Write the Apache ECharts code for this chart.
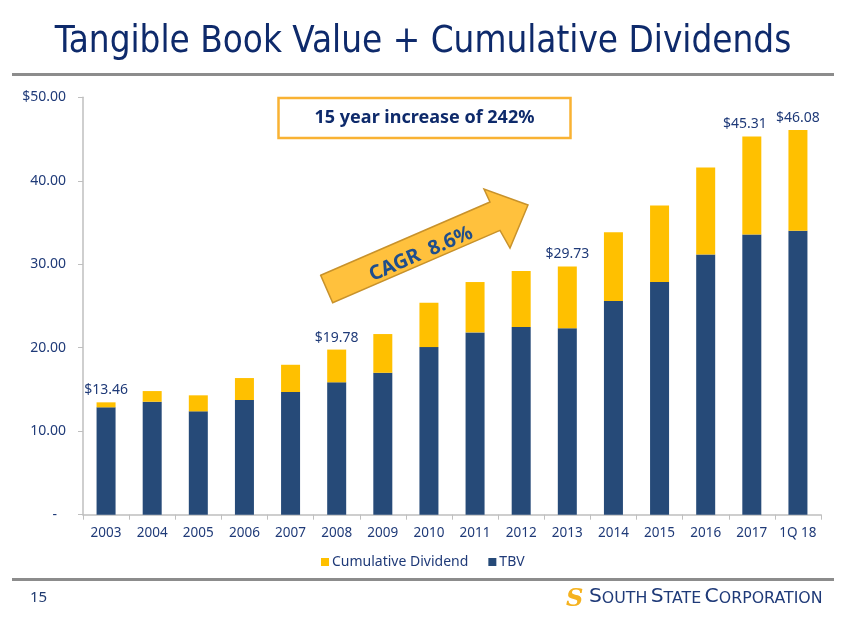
<!DOCTYPE html>
<html>
<head>
<meta charset="utf-8">
<script src="https://cdn.jsdelivr.net/npm/echarts@6/dist/echarts.min.js"></script>
<style>
html,body{margin:0;padding:0;background:#fff;}
#chart{width:846px;height:635px;}
</style>
</head>
<body>
<div id="chart"></div>
<script>
const categories = ['2003','2004','2005','2006','2007','2008','2009','2010','2011','2012','2013','2014','2015','2016','2017','1Q 18'];
const tbv = [12.86,13.53,12.38,13.74,14.70,15.86,17.00,20.08,21.84,22.48,22.32,25.59,27.87,31.18,33.57,34.00];
const cumulativeDividend = [0.60,1.28,1.92,2.63,3.26,3.92,4.64,5.31,6.03,6.71,7.41,8.23,9.18,10.42,11.74,12.08];
const totalLabels = {0:'$13.46', 5:'$19.78', 10:'$29.73', 14:'$45.31', 15:'$46.08'};

const NAVY = '#264A78';
const GOLD = '#FFC000';
const TEXT = '#1F3A78';
const FONT = 'Noto Sans';

const chart = echarts.init(document.getElementById('chart'));

const divData = cumulativeDividend.map((v, i) => {
  if (totalLabels[i] === undefined) return v;
  return {
    value: v,
    label: {
      show: true, position: 'top', distance: 5,
      formatter: totalLabels[i], color: TEXT, fontSize: 14, fontFamily: FONT,
      offset: i === 14 ? [-7, 0] : [0, 0]
    }
  };
});

const option = {
  animation: false,
  textStyle: { fontFamily: FONT },
  grid: { left: 83, right: 25, top: 97.3, bottom: 120.3 },
  legend: {
    data: ['Cumulative Dividend', 'TBV'],
    top: 550, left: 316,
    itemWidth: 8, itemHeight: 8, itemGap: 20,
    icon: 'rect',
    textStyle: { color: TEXT, fontSize: 14, fontFamily: FONT, padding: [0,0,0,-2] }
  },
  xAxis: {
    type: 'category',
    data: categories,
    axisLine: { lineStyle: { color: '#BFBFBF', width: 1.5 } },
    axisTick: { show: true, length: 5, lineStyle: { color: '#BFBFBF' } },
    axisLabel: { interval: 0, color: TEXT, fontSize: 13.5, margin: 11, fontFamily: FONT }
  },
  yAxis: {
    type: 'value', min: 0, max: 50, interval: 10,
    splitLine: { show: false },
    axisLine: { show: true, lineStyle: { color: '#BFBFBF', width: 1.5 } },
    axisTick: { show: true, length: 5, lineStyle: { color: '#BFBFBF' } },
    axisLabel: {
      color: TEXT, fontSize: 14, margin: 17, fontFamily: FONT,
      formatter: v => v === 0 ? '{d|-}' : (v === 50 ? '$' + v.toFixed(2) : v.toFixed(2)),
      rich: { d: { color: TEXT, fontSize: 14, padding: [0, 9, 0, 0] } }
    }
  },
  series: [
    {
      name: 'TBV', type: 'bar', stack: 'total', data: tbv,
      barWidth: 19, itemStyle: { color: NAVY }
    },
    {
      name: 'Cumulative Dividend', type: 'bar', stack: 'total', data: divData,
      barWidth: 19, itemStyle: { color: GOLD }
    }
  ],
  graphic: [
    { type: 'text', left: 'center', top: 24,
      style: { text: 'Tangible Book Value + Cumulative Dividends', fill: '#0E2A6B', fontSize: 36.5, fontFamily: 'DejaVu Sans Condensed, Noto Sans' } },
    { type: 'rect', shape: { x: 12, y: 73, width: 822, height: 3 }, style: { fill: '#8C8C8C' } },
    { type: 'rect', shape: { x: 12, y: 578, width: 822, height: 3 }, style: { fill: '#8C8C8C' } },
    { type: 'rect', shape: { x: 278.5, y: 98, width: 292, height: 40 }, style: { fill: '#fff', stroke: '#F9B233', lineWidth: 2.5 } },
    { type: 'text', x: 424.5, y: 118,
      style: { text: '15 year increase of 242%', fill: '#0E2A6B', fontSize: 18, fontWeight: 'bold', fontFamily: FONT, align: 'center', verticalAlign: 'middle' } },
    { type: 'polygon',
      shape: { points: [[320.7,275.3],[490,202],[484,189],[528,205],[510,248],[500,230.4],[332.7,302.7]] },
      style: { fill: '#FFC13D', stroke: '#C8922B', lineWidth: 1.5 } },
    { type: 'text', x: 421, y: 254, rotation: 23.4 * Math.PI / 180,
      style: { text: 'CAGR  8.6%', fill: '#1F4E8C', fontSize: 20, fontWeight: 'bold', fontFamily: FONT, align: 'center', verticalAlign: 'middle' } },
    { type: 'text', x: 30, y: 598,
      style: { text: '15', fill: '#1F3A70', fontSize: 15, fontFamily: FONT, verticalAlign: 'middle' } },
    { type: 'text', x: 566, y: 600,
      style: { text: 'S', fill: '#F5B21F', fontSize: 24, fontWeight: 'bold', fontStyle: 'italic', fontFamily: 'DejaVu Serif', verticalAlign: 'middle' } },
    { type: 'text', x: 589, y: 607,
      style: { text: '{b|S}{s|OUTH} {b|S}{s|TATE} {b|C}{s|ORPORATION}', verticalAlign: 'bottom',
        rich: { b: { fontSize: 20.3, fill: '#1F3A78', fontFamily: 'DejaVu Sans', verticalAlign: 'bottom', lineHeight: 20 },
                s: { fontSize: 15.8, fill: '#1F3A78', fontFamily: 'DejaVu Sans', verticalAlign: 'bottom', lineHeight: 20 } } } }
  ]
};
chart.setOption(option);
</script>
</body>
</html>
